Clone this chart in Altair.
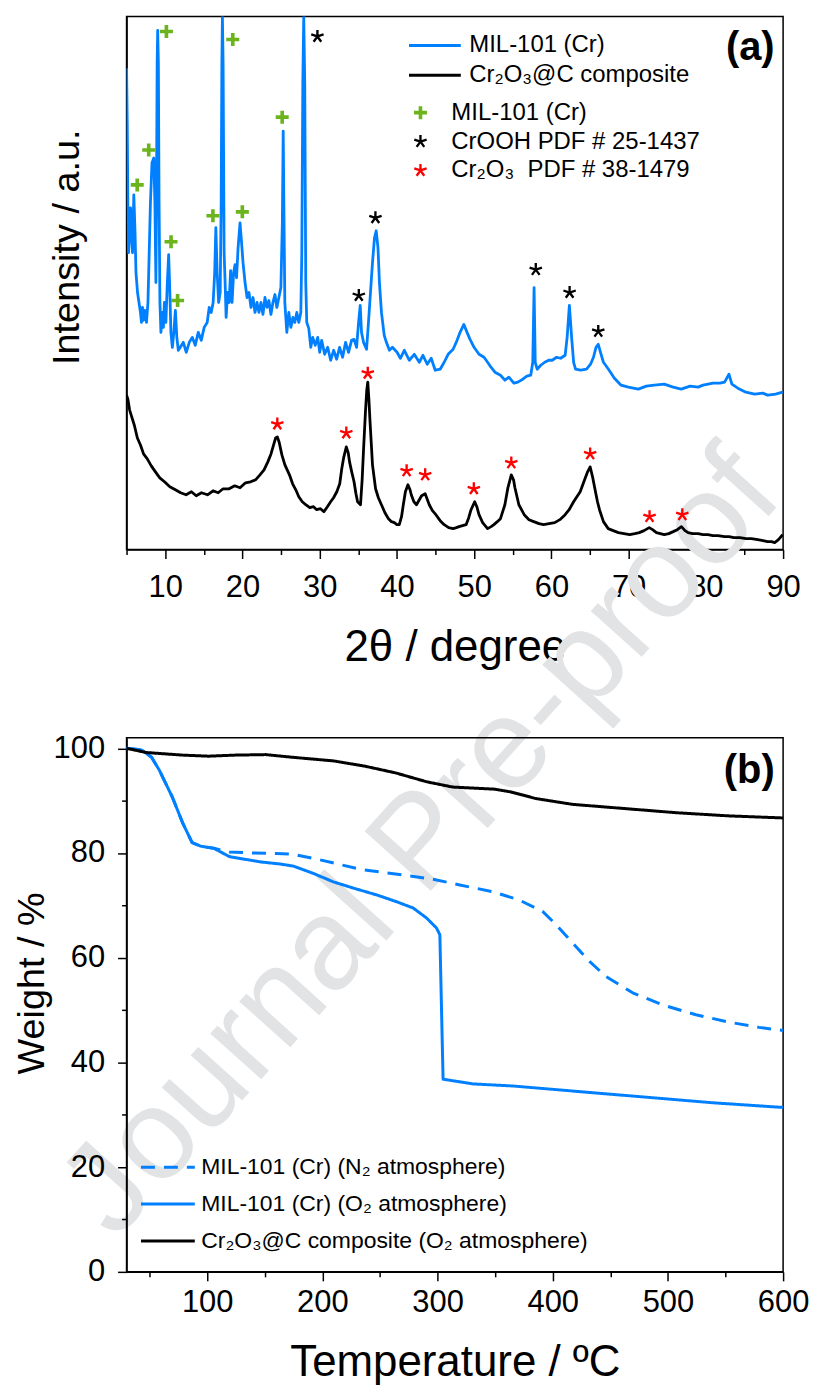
import altair as alt
import pandas as pd

# ---------------- (a) XRD patterns ----------------
MIL_2THETA = [5.00, 5.09, 5.17, 5.26, 5.39, 5.52, 5.64, 5.77, 5.94, 6.10, 6.22, 6.42, 6.61, 6.80, 6.93, 7.06, 7.19, 7.38,
              7.58, 7.77, 7.90, 8.09, 8.29, 8.52, 8.67, 8.80, 8.87, 8.96, 9.03, 9.12, 9.21, 9.32, 9.45, 9.64, 9.77, 9.90,
              10.09, 10.28, 10.45, 10.61, 10.74, 10.93, 11.12, 11.32, 11.51, 11.70, 11.96, 12.35, 12.73, 13.12, 13.51,
              13.89, 14.28, 14.67, 15.05, 15.44, 15.70, 15.96, 16.21, 16.41, 16.56, 16.73, 16.92, 17.12, 17.25, 17.34,
              17.41, 17.50, 17.63, 17.76, 17.89, 18.08, 18.28, 18.47, 18.66, 18.86, 19.05, 19.24, 19.44, 19.69, 19.89,
              20.08, 20.34, 20.60, 20.85, 21.11, 21.37, 21.63, 21.89, 22.14, 22.40, 22.66, 22.92, 23.18, 23.43, 23.69,
              23.95, 24.21, 24.46, 24.72, 24.98, 25.17, 25.28, 25.39, 25.49, 25.75, 26.01, 26.27, 26.53, 26.78, 27.04,
              27.30, 27.56, 27.69, 27.82, 27.94, 28.07, 28.20, 28.33, 28.59, 28.85, 29.10, 29.43, 29.75, 30.01, 30.26,
              30.65, 31.04, 31.42, 31.81, 32.20, 32.58, 32.97, 33.36, 33.74, 34.13, 34.45, 34.78, 35.04, 35.25, 35.42,
              35.68, 36.07, 36.32, 36.58, 36.84, 37.10, 37.32, 37.55, 37.74, 38.00, 38.36, 38.64, 39.03, 39.42, 40.02,
              40.45, 40.96, 41.61, 42.25, 42.90, 43.37, 43.93, 44.44, 44.96, 45.60, 46.12, 46.63, 47.28, 47.79, 48.18,
              48.67, 49.08, 49.47, 49.99, 50.63, 51.28, 51.74, 52.18, 52.69, 53.41, 53.98, 54.50, 55.14, 55.66, 56.30,
              56.82, 57.33, 57.59, 57.76, 57.91, 58.16, 58.62, 59.14, 59.65, 60.10, 60.68, 61.20, 61.78, 62.04, 62.33,
              62.62, 62.88, 63.13, 63.78, 64.55, 65.07, 65.45, 65.78, 66.07, 66.36, 66.74, 67.39, 68.16, 69.02, 69.96,
              71.25, 72.29, 73.32, 74.61, 75.77, 76.80, 77.96, 78.99, 79.64, 80.93, 81.83, 82.42, 82.99, 83.37, 84.14,
              85.17, 86.33, 87.36, 88.00, 89.03, 89.94]
MIL_INT = [483, 428, 348, 298, 323, 343, 313, 298, 356, 318, 278, 258, 248, 238, 228, 243, 230, 240,
           228, 248, 288, 348, 388, 393, 348, 268, 348, 488, 521, 488, 348, 248, 218, 238, 223, 248,
           228, 268, 296, 258, 218, 203, 218, 240, 213, 200, 203, 208, 198, 208, 213,
           205, 218, 210, 223, 228, 243, 238, 248, 278, 323, 278, 248, 258, 348, 488,
           535, 488, 298, 268, 233, 258, 248, 280, 248, 278, 286, 273, 303, 328, 308,
           288, 268, 253, 258, 243, 253, 238, 248, 238, 248, 236, 253, 243, 250, 236,
           248, 256, 243, 253, 263, 328, 420, 328, 248, 218, 238, 223, 233, 228, 238,
           228, 238, 298, 468, 535, 468, 268, 228, 222, 203, 213, 205, 213, 198, 210,
           196, 203, 190, 200, 191, 203, 193, 208, 198, 210, 211, 203, 228, 245, 218,
           208, 201, 228, 258, 288, 313, 320, 303, 268, 238, 215, 208, 200, 203, 198,
           192, 200, 190, 196, 188, 195, 186, 192, 180, 181, 188, 196, 201, 210, 218,
           226, 218, 211, 203, 196, 193, 188, 183, 178, 175, 170, 173, 167, 168, 171,
           174, 175, 188, 263, 188, 181, 185, 188, 190, 190, 193, 192, 195, 213, 245,
           213, 188, 181, 180, 181, 186, 193, 203, 206, 198, 188, 181, 172, 165, 163,
           161, 164, 165, 166, 163, 161, 164, 163, 165, 167, 167, 168, 176, 166, 162,
           158, 156, 157, 155, 156, 158]

COMP_2THETA = [5.00, 5.17, 5.40, 5.60, 6.00, 6.40, 6.80, 7.20, 7.68, 8.20, 8.74, 9.30, 9.91, 10.60, 11.32, 12.00,
               12.70, 13.40, 14.02, 14.70, 15.48, 16.20, 16.86, 17.50, 18.28, 19.00, 19.69, 20.40, 21.06, 21.70,
               22.27, 22.80, 23.29, 23.70, 24.00, 24.30, 24.52, 24.75, 25.11, 25.50, 26.09, 26.50, 26.91, 27.30,
               27.75, 28.20, 28.72, 29.20, 29.62, 30.10, 30.55, 31.00, 31.42, 31.80, 32.22, 32.60, 32.84, 33.10,
               33.45, 33.70, 33.87, 34.15, 34.45, 34.70, 34.91, 35.29, 35.50, 35.68, 35.94, 36.10, 36.23, 36.38,
               36.51, 36.84, 37.24, 37.60, 38.00, 38.45, 38.91, 39.30, 39.67, 40.00, 40.31, 40.60, 40.83, 41.10,
               41.43, 41.70, 41.86, 42.20, 42.54, 42.90, 43.20, 43.66, 43.95, 44.19, 44.60, 45.05, 45.60, 46.12,
               46.70, 47.28, 47.70, 48.05, 48.50, 48.96, 49.30, 49.60, 50.07, 50.35, 50.63, 51.10, 51.74, 52.20,
               52.56, 53.00, 53.41, 53.98, 54.37, 54.81, 55.10, 55.28, 55.79, 56.48, 57.10, 57.72, 58.40, 58.99,
               59.70, 60.43, 61.10, 61.78, 62.30, 62.88, 63.30, 63.73, 64.30, 64.69, 65.02, 65.33, 65.71, 65.97,
               66.23, 66.74, 67.36, 68.00, 68.68, 69.40, 70.14, 70.80, 71.38, 72.00, 72.67, 73.10, 73.60, 74.10,
               74.62, 75.20, 75.77, 76.30, 76.84, 77.30, 77.70, 78.30, 78.99, 79.63, 80.28, 80.90, 81.57, 82.42,
               83.00, 83.63, 84.40, 85.20, 85.90, 86.72, 87.40, 88.00, 88.50, 88.91, 89.40, 89.95]
COMP_INT = [155, 151, 140, 135, 125, 112, 105, 96, 91, 84, 78, 72, 68, 63, 60, 57,
            55, 58, 54, 57, 55, 59, 57, 61, 61, 64, 62, 67, 68, 70,
            75, 80, 88, 96, 104, 112, 113, 108, 95, 85, 75, 66, 60, 53,
            48, 45, 42, 43, 40, 41, 38, 43, 48, 52, 58, 66, 80, 92,
            103, 97, 88, 78, 68, 56, 48, 45, 70, 100, 140, 160, 168, 150,
            130, 85, 61, 52, 45, 37, 31, 28, 27, 25, 25, 33, 45, 58,
            65, 60, 55, 48, 45, 50, 54, 56, 50, 45, 39, 35, 29, 25,
            22, 21, 22, 23, 24, 25, 32, 40, 48, 43, 35, 27, 21, 23,
            25, 28, 31, 45, 62, 75, 70, 62, 45, 35, 30, 28, 26, 25,
            26, 27, 30, 35, 40, 48, 53, 58, 70, 78, 83, 73, 58, 48,
            40, 28, 21, 19, 17, 16, 15, 16, 17, 19, 22, 20, 17, 16,
            15, 16, 18, 20, 23, 19, 17, 16, 16, 15, 15, 14, 14, 13,
            13, 12, 12, 11, 11, 10, 9, 8, 8, 7, 10, 15]

LINE_NAMES = ["MIL-101 (Cr)", "Cr\u2082O\u2083@C composite"]

PLUS_2THETA = [6.38, 7.87, 10.16, 10.76, 11.61, 16.18, 18.75, 19.99, 25.15]
PLUS_INT = [366, 401, 520, 309, 250, 335, 512, 339, 434]
CROOH_2THETA = [29.71, 35.07, 37.22, 57.98, 62.36, 66.07]
CROOH_INT = [515, 255, 333, 281, 258, 219]
CR2O3_2THETA = [24.52, 33.45, 36.23, 41.26, 43.66, 49.96, 54.81, 65.02, 72.71, 76.95]
CR2O3_INT = [126, 117, 177, 79, 75, 61, 87, 96, 33, 35]

MARKER_NAMES = ["MIL-101 (Cr)", "CrOOH PDF # 25-1437", "Cr\u2082O\u2083\u00a0 PDF # 38-1479"]

# ---------------- (b) TGA curves ----------------
N2_T = [30, 43, 51.7, 58.5, 69.7, 78.8, 86.9, 94.5, 105.8, 119.4, 140, 160, 173.5, 198, 232.7, 270.2, 296.2,
        319.3, 348.1, 371.2, 391.4, 403, 417.4, 431.9, 446.3, 469.4, 495.4, 524.3, 553.1, 579, 600]
N2_W = [100, 99.7, 98.3, 95.8, 90.7, 85.7, 82.0, 81.3, 80.9, 80.2, 80.0, 79.9, 79.8, 78.7, 76.9, 75.8, 75.0,
        73.9, 72.6, 71.0, 68.8, 66.3, 62.8, 59.3, 56.4, 53.3, 51.0, 49.1, 47.7, 46.7, 46.1]
O2_T = [30, 43, 51.7, 58.5, 69.7, 78.8, 86.9, 94.5, 105.8, 119.4, 146.4, 163.4, 174.9, 192.2, 209.5, 226.9,
        247.1, 264.4, 278.8, 290.4, 299, 302, 304.8, 330.8, 365.4, 408.7, 452, 495.4, 538.7, 600]
O2_W = [100, 99.7, 98.3, 95.8, 90.7, 85.7, 82.0, 81.3, 80.9, 79.3, 78.3, 77.9, 77.5, 76.1, 74.5, 73.3,
        72.0, 70.7, 69.5, 67.6, 65.7, 64.4, 36.8, 35.9, 35.5, 34.7, 33.9, 33.1, 32.3, 31.4]
COMP_T = [30, 47, 78.8, 101.3, 123.9, 150.9, 173.5, 209.6, 236.7, 263.7, 290.7, 313.2, 349.4, 362.9, 385.5,
          417, 462.2, 507.2, 552.3, 600]
COMP_W = [100, 99.2, 98.7, 98.5, 98.7, 98.8, 98.3, 97.6, 96.6, 95.3, 93.6, 92.6, 92.2, 91.7, 90.4,
          89.3, 88.5, 87.7, 87.1, 86.7]

TGA_NAMES = ["MIL-101 (Cr) (N\u2082 atmosphere)", "MIL-101 (Cr) (O\u2082 atmosphere)",
             "Cr\u2082O\u2083@C composite (O\u2082 atmosphere)"]

# ---------------- styles ----------------
FONT = "Liberation Sans, Arial, sans-serif"
BLUE = "#0080ff"
GREEN = "#6cb41c"
RED = "#ff0000"
WATERMARK = "#e2e3e5"

PLUS_PATH = "M-1,-0.28H-0.28V-1H0.28V-0.28H1V0.28H0.28V1H-0.28V0.28H-1Z"
STAR_PATH = ("M0.18,0L0.18,-1L-0.18,-1L-0.18,0Z "
             "M0.056,0.171L1.007,-0.138L0.895,-0.48L-0.056,-0.171Z "
             "M-0.146,0.106L0.442,0.915L0.734,0.703L0.146,-0.106Z "
             "M-0.146,-0.106L-0.734,0.703L-0.442,0.915L0.146,0.106Z "
             "M0.056,-0.171L-0.895,-0.48L-1.007,-0.138L-0.056,0.171Z")

# ---------------- tables ----------------
xrd = pd.DataFrame({
    "two_theta": MIL_2THETA + COMP_2THETA,
    "intensity": MIL_INT + COMP_INT,
    "sample": [LINE_NAMES[0]] * len(MIL_2THETA) + [LINE_NAMES[1]] * len(COMP_2THETA),
})
markers = pd.DataFrame({
    "two_theta": PLUS_2THETA + CROOH_2THETA + CR2O3_2THETA,
    "intensity": PLUS_INT + CROOH_INT + CR2O3_INT,
    "phase": [MARKER_NAMES[0]] * len(PLUS_2THETA) + [MARKER_NAMES[1]] * len(CROOH_2THETA)
             + [MARKER_NAMES[2]] * len(CR2O3_2THETA),
})
tga = pd.DataFrame({
    "temp": N2_T + O2_T + COMP_T,
    "weight": N2_W + O2_W + COMP_W,
    "series": [TGA_NAMES[0]] * len(N2_T) + [TGA_NAMES[1]] * len(O2_T) + [TGA_NAMES[2]] * len(COMP_T),
})

# ---------------- panel (a) ----------------
x_a = alt.X(
    "two_theta:Q", title="2\u03b8 / degree",
    scale=alt.Scale(domain=[5, 90], nice=False, zero=False),
    axis=alt.Axis(values=list(range(5, 91, 5)),
                  labelExpr="datum.value % 10 === 0 ? datum.label : ''",
                  tickSize={"condition": {"test": "datum.value % 10 === 0", "value": 9}, "value": 5},
                  labelFontSize=31, labelPadding=14, labelFlush=False, labelOverlap=False,
                  titleFontSize=44, titlePadding=23),
)
y_a = alt.Y(
    "intensity:Q", title="Intensity / a.u.",
    scale=alt.Scale(domain=[0, 535], nice=False, zero=False),
    axis=alt.Axis(labels=False, ticks=False, titleFontSize=38, titlePadding=40, titleY=231),
)

leg_lines = alt.Legend(title=None, orient="none", legendX=282, legendY=16, symbolType="stroke",
                       symbolSize=2704, symbolStrokeWidth=3, labelFontSize=24, labelFont=FONT,
                       labelOffset=7, clipHeight=26, rowPadding=4, padding=0, labelLimit=500)
leg_marks = alt.Legend(title=None, orient="none", legendX=283, legendY=84, symbolSize=170,
                       labelFontSize=24, labelFont=FONT, labelOffset=19,
                       clipHeight=25, rowPadding=4, padding=0, labelLimit=500)

watermark = alt.Chart(pd.DataFrame({"label": ["Journal Pre-proof"]})).mark_text(
    angle=312, fontSize=130, font=FONT, color=WATERMARK, align="center", baseline="middle"
).encode(x=alt.value(296), y=alt.value(830), text="label:N")

lines_a = alt.Chart(xrd).mark_line(strokeWidth=2.8, clip=True, strokeJoin="round").encode(
    x=x_a, y=y_a,
    stroke=alt.Stroke("sample:N", scale=alt.Scale(domain=LINE_NAMES, range=[BLUE, "black"]), legend=leg_lines),
)

marks_a = alt.Chart(markers).mark_point(filled=True, opacity=1, size=170).encode(
    x=x_a, y=y_a,
    shape=alt.Shape("phase:N", scale=alt.Scale(domain=MARKER_NAMES, range=[PLUS_PATH, STAR_PATH, STAR_PATH]),
                    legend=leg_marks),
    color=alt.Color("phase:N", scale=alt.Scale(domain=MARKER_NAMES, range=[GREEN, "black", RED]),
                    legend=leg_marks),
)

label_a = alt.Chart(pd.DataFrame({"label": ["(a)"]})).mark_text(
    fontSize=40, fontWeight="bold", font=FONT, align="center", baseline="middle", color="black"
).encode(x=alt.value(626), y=alt.value(32), text="label:N")

top = alt.layer(watermark, lines_a, marks_a, label_a).properties(width=659, height=535)

# ---------------- panel (b) ----------------
x_b = alt.X(
    "temp:Q", title="Temperature / \u00baC",
    scale=alt.Scale(domain=[30, 600], nice=False, zero=False),
    axis=alt.Axis(values=list(range(50, 601, 50)),
                  labelExpr="datum.value % 100 === 0 ? datum.label : ''",
                  tickSize={"condition": {"test": "datum.value % 100 === 0", "value": 9}, "value": 5},
                  labelFontSize=31, labelPadding=7, labelFlush=False, labelOverlap=False,
                  titleFontSize=44, titlePadding=23),
)
y_b = alt.Y(
    "weight:Q", title="Weight / %",
    scale=alt.Scale(domain=[0, 102], nice=False, zero=False),
    axis=alt.Axis(values=list(range(0, 101, 10)),
                  labelExpr="datum.value % 20 === 0 ? datum.label : ''",
                  tickSize={"condition": {"test": "datum.value % 20 === 0", "value": 9}, "value": 5},
                  labelFontSize=31, labelPadding=13, labelFlush=False, labelOverlap=False,
                  titleFontSize=38, titlePadding=2, titleY=246),
)
leg_b = alt.Legend(title=None, orient="none", legendX=13, legendY=416, symbolType="stroke",
                   symbolSize=2916, symbolStrokeWidth=3, labelFontSize=23, labelFont=FONT,
                   labelOffset=5, clipHeight=30, rowPadding=7, padding=0, labelLimit=500)


def tga_layer(name):
    return alt.Chart(tga).transform_filter(alt.datum.series == name).mark_line(
        strokeWidth=3, strokeJoin="round"
    ).encode(
        x=x_b, y=y_b,
        stroke=alt.Stroke("series:N", scale=alt.Scale(domain=TGA_NAMES, range=[BLUE, BLUE, "black"]),
                          legend=leg_b),
        strokeDash=alt.StrokeDash("series:N", scale=alt.Scale(domain=TGA_NAMES, range=[[14, 9], [1, 0], [1, 0]]),
                                  legend=leg_b),
    )


label_b = alt.Chart(pd.DataFrame({"label": ["(b)"]})).mark_text(
    fontSize=40, fontWeight="bold", font=FONT, align="center", baseline="middle", color="black"
).encode(x=alt.value(625), y=alt.value(33), text="label:N")

bottom = alt.layer(tga_layer(TGA_NAMES[0]), tga_layer(TGA_NAMES[1]), tga_layer(TGA_NAMES[2]), label_b).properties(
    width=659, height=536)

chart = alt.vconcat(top, bottom, spacing=189, bounds="flush").resolve_scale(
    stroke="independent", color="independent", shape="independent", strokeDash="independent"
).resolve_legend(
    stroke="independent", color="independent", shape="independent", strokeDash="independent"
).properties(
    padding={"left": 4, "top": 5, "right": 0, "bottom": 0}
).configure_view(
    stroke="black", strokeWidth=1.5
).configure_axis(
    labelFont=FONT, titleFont=FONT, labelColor="black", titleColor="black", titleFontWeight="normal",
    domainColor="black", tickColor="black", domainWidth=1.5, tickWidth=1.5, grid=False
).configure_legend(
    labelColor="black"
)

chart.save("out.html", embed_options={"renderer": "svg", "actions": False})
